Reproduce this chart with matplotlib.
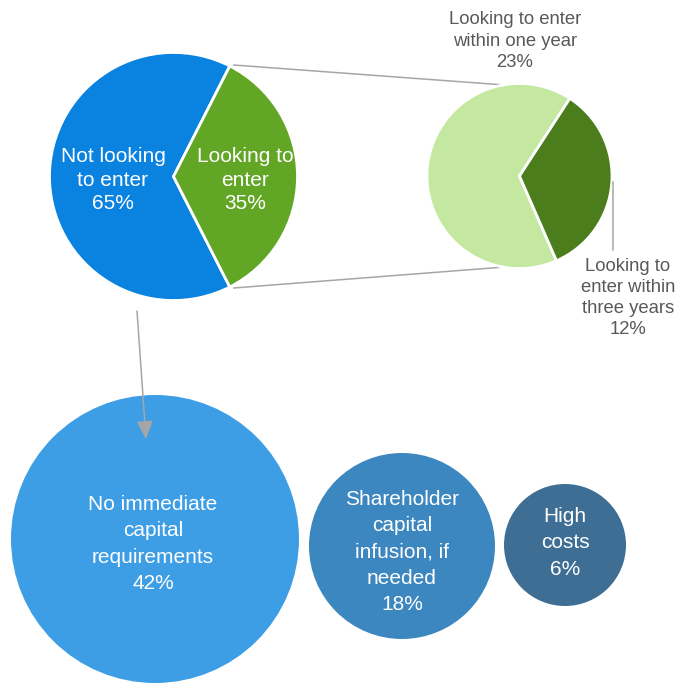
import matplotlib.pyplot as plt
import numpy as np
from matplotlib.patches import Circle

plt.rcParams['font.family'] = ['Liberation Sans', 'DejaVu Sans']

# data
main_labels = ['Not looking\nto enter', 'Looking to\nenter']
main_values = [65, 35]
sub_labels = ['Looking to enter\nwithin one year', 'Looking to\nenter within\nthree years']
sub_values = [23, 12]
bubble_labels = ['No immediate\ncapital\nrequirements', 'Shareholder\ncapital\ninfusion, if\nneeded', 'High\ncosts']
bubble_values = [42, 18, 6]

# styles / layout (pixel units, y measured from top)
W, H = 691, 684
main_colors = ['#0A82E0', '#62A626']
sub_colors = ['#C5E8A0', '#4B7D1C']
bubble_colors = ['#3D9EE5', '#3D87C0', '#3E6E94']
gray = '#A6A6A6'
txt_gray = '#595959'

main_c, main_r = (173.5, 176.5), 124
sub_c, sub_r = (519.5, 176), 92.5
bubble_x = [155, 402, 565]
bubble_y = [539, 546, 545]
bubble_r = [144, 93, 61]


def P(x, y):
    return (x, H - y)


fig = plt.figure(figsize=(W / 100, H / 100), dpi=100)
ax = fig.add_axes([0, 0, 1, 1])

# main pie
ax.pie(main_values, colors=main_colors, center=P(*main_c), radius=main_r,
       startangle=main_values[1] / 100 * 180, counterclock=True,
       wedgeprops=dict(edgecolor='white', linewidth=2))
# breakdown pie
ax.pie(sub_values, colors=sub_colors, center=P(*sub_c), radius=sub_r,
       startangle=57, counterclock=True,
       wedgeprops=dict(edgecolor='white', linewidth=2))

# connector lines
a1 = np.deg2rad(main_values[1] / 100 * 180)
a2 = np.deg2rad(100)
for s in (1, -1):
    x0 = main_c[0] + main_r * np.cos(a1) + 4
    y0 = main_c[1] - s * main_r * np.sin(a1) - s * 1
    x1 = sub_c[0] + sub_r * np.cos(a2)
    y1 = sub_c[1] - s * sub_r * np.sin(a2)
    ax.plot([x0, x1], [H - y0, H - y1], color=gray, lw=1.1, zorder=0)

# leader line for 12%
ax.plot([613, 613], [H - 182, H - 250], color=gray, lw=1.1)

# arrow to bubbles
ax.annotate('', xy=P(146, 439), xytext=P(137, 311),
            arrowprops=dict(arrowstyle='-|>,head_length=1.1,head_width=0.5',
                            color=gray, lw=1.1, shrinkA=0, shrinkB=0), zorder=5)

# bubbles
for x, y, r, c in zip(bubble_x, bubble_y, bubble_r, bubble_colors):
    ax.add_patch(Circle(P(x, y), r, color=c, lw=0, zorder=2))

# labels
fs = 15
ax.text(*P(113, 180), f'{main_labels[0]}\n{main_values[0]}%', color='white',
        ha='center', va='center', fontsize=fs, linespacing=1.32, zorder=6)
ax.text(*P(245, 180), f'{main_labels[1]}\n{main_values[1]}%', color='white',
        ha='center', va='center', fontsize=fs, linespacing=1.32, zorder=6)
ax.text(*P(515, 41), f'{sub_labels[0]}\n{sub_values[0]}%', color=txt_gray,
        ha='center', va='center', fontsize=13.3, linespacing=1.33)
ax.text(*P(628, 298), f'{sub_labels[1]}\n{sub_values[1]}%', color=txt_gray,
        ha='center', va='center', fontsize=13.3, linespacing=1.33)

label_pos = [(153, 544), (402, 552), (565, 543)]
for (x, y), lab, v in zip(label_pos, bubble_labels, bubble_values):
    ax.text(*P(x, y), f'{lab}\n{v}%', color='white', ha='center', va='center',
            fontsize=fs, linespacing=1.48, zorder=6)

ax.set_xlim(0, W)
ax.set_ylim(0, H)
ax.set_aspect('equal')
ax.axis('off')

fig.savefig('out.png', dpi=100)
